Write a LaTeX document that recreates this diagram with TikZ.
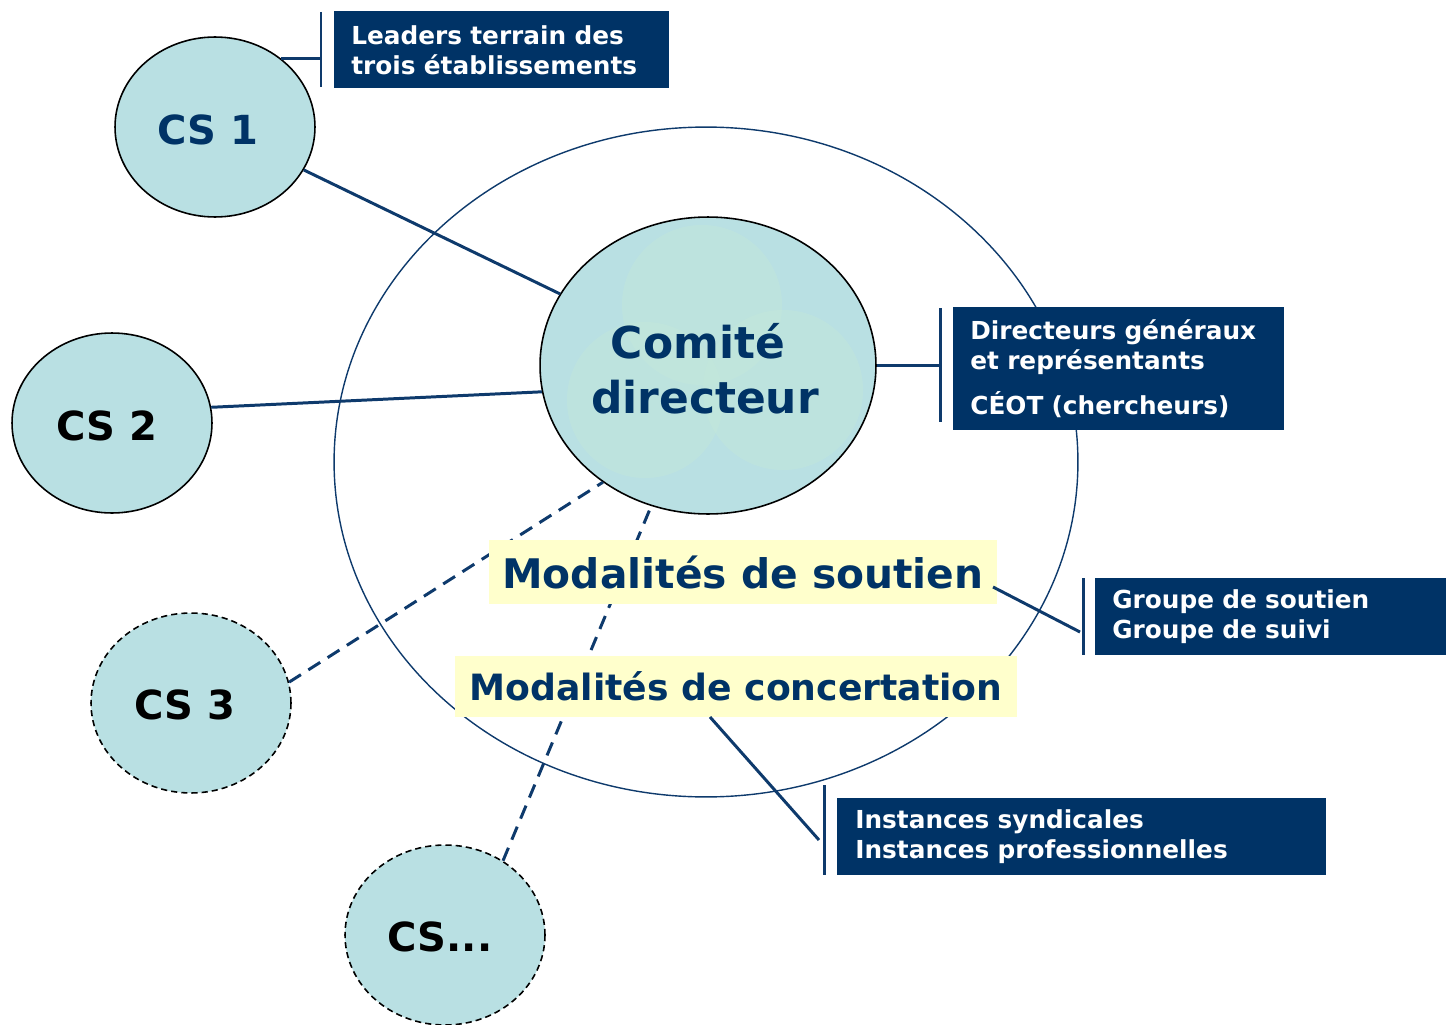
\documentclass[tikz,border=0pt]{standalone}
\usepackage{fontspec}
\setmainfont{DejaVu Sans}
\usetikzlibrary{shapes.geometric}
\definecolor{navy}{RGB}{0,51,102}
\definecolor{lnavy}{RGB}{14,58,108}
\definecolor{cfill}{RGB}{185,224,227}
\definecolor{cglow}{RGB}{196,232,218}
\definecolor{ylw}{RGB}{255,255,204}
\tikzset{
  csnode/.style={ellipse, draw=black, line width=0.9pt, fill=cfill, minimum width=4.0cm, minimum height=3.6cm, inner sep=0pt},
  csdash/.style={csnode, dash pattern=on 3.5pt off 2.3pt},
  cslabel/.style={font=\bfseries\fontsize{22.8}{27}\selectfont, text=black, inner sep=0pt},
  navybox/.style={rectangle, fill=navy, text=white, anchor=north west, align=left, inner ysep=0pt,
    font=\bfseries\fontsize{14.1}{17.07}\selectfont},
  ybox/.style={rectangle, fill=ylw, text=navy, inner sep=0pt},
  conn/.style={draw=lnavy, line width=1.7pt},
  dconn/.style={conn, dash pattern=on 8pt off 5pt},
  barline/.style={draw=lnavy, line width=1.7pt},
}
\begin{document}
\begin{tikzpicture}[x=0.02cm,y=-0.02cm]
\useasboundingbox (0,0) rectangle (1446,1024);
% outer ellipse
\node[ellipse, draw=lnavy, line width=0.8pt, minimum width=14.88cm, minimum height=13.4cm, inner sep=0pt] (outer) at (706,462) {};
% CS nodes
\node[csnode] (cs1) at (215,127) {};
\node[csnode] (cs2) at (112,423) {};
\node[csdash] (cs3) at (191,703) {};
\node[csdash] (csx) at (445,935) {};
\node[cslabel, text=navy] (cs1t) at (208,130) {CS 1};
\node[cslabel] (cs2t) at (107,426) {CS 2};
\node[cslabel] (cs3t) at (185,705) {CS 3};
\node[cslabel] (csxt) at (440,937) {CS...};
% Comite directeur
\node[ellipse, draw=black, line width=0.9pt, fill=cfill, minimum width=6.72cm, minimum height=5.94cm, inner sep=0pt] (cd) at (708,365.5) {};
\begin{scope}
\clip (708,365.5) ellipse [x radius=167, y radius=147.5];
\fill[cglow, opacity=0.45] (702,305) circle [radius=80];
\fill[cglow, opacity=0.45] (645,400) circle [radius=78];
\fill[cglow, opacity=0.45] (783,390) circle [radius=80];
\end{scope}
\node[text=navy, align=center, font=\bfseries\fontsize{25}{31.3}\selectfont] (cdt) at (705,369) {\hspace*{-8pt}Comité\\ directeur};
% connectors CS -> comite
\draw[conn] (cs1) -- (cd);
\draw[conn] (cs2.9) -- (cd.189);
\draw[dconn] (cs3.12) -- (cd.228);
\draw[dconn] (csx.52) -- (cd.248);
% yellow boxes
\node[ybox, minimum width=10.16cm, minimum height=1.28cm, font=\bfseries\fontsize{23.2}{27}\selectfont] (ms) at (743,572) {Modalités de soutien};
\node[ybox, minimum width=11.24cm, minimum height=1.22cm, font=\bfseries\fontsize{20.6}{25}\selectfont] (mc) at (736,686.5) {Modalités de concertation};
% navy boxes
\node[navybox, minimum width=6.70cm, minimum height=1.54cm, inner xsep=0.34cm, text width=6.02cm] (b1) at (334,11)
  {Leaders terrain des\\ trois établissements};
\node[navybox, minimum width=6.62cm, minimum height=2.46cm, inner xsep=0.34cm, text width=5.94cm] (b2) at (953,307)
  {Directeurs généraux\\ et représentants\\[8.5pt] CÉOT (chercheurs)};
\node[navybox, minimum width=7.02cm, minimum height=1.54cm, inner xsep=0.34cm, text width=6.34cm] (b3) at (1095,578)
  {Groupe de soutien\\ Groupe de suivi};
\node[navybox, minimum width=9.78cm, minimum height=1.54cm, inner xsep=0.36cm, text width=9.06cm] (b4) at (837,798)
  {Instances syndicales\\ Instances professionnelles};
% bars
\coordinate (bar1t) at (321,12); \coordinate (bar1b) at (321,87);
\coordinate (bar2t) at (940,308); \coordinate (bar2b) at (940,422);
\coordinate (bar3t) at (1083,578); \coordinate (bar3b) at (1083,655);
\coordinate (bar4t) at (824,785); \coordinate (bar4b) at (824,875);
\draw[barline] (bar1t) -- (bar1b);
\draw[barline] (bar2t) -- (bar2b);
\draw[barline] (bar3t) -- (bar3b);
\draw[barline] (bar4t) -- (bar4b);
% connectors to bars
\draw[conn] (cs1.46) -- (cs1.46 -| bar1t);
\draw[conn] (cd.east) -- (cd.east -| bar2t);
\coordinate (ms1) at (993,587); \coordinate (ms2) at (1080,632);
\draw[conn] (ms1) -- (ms2);
\coordinate (mc1) at (710,717); \coordinate (mc2) at (819,840);
\draw[conn] (mc1) -- (mc2);
\end{tikzpicture}
\end{document}
